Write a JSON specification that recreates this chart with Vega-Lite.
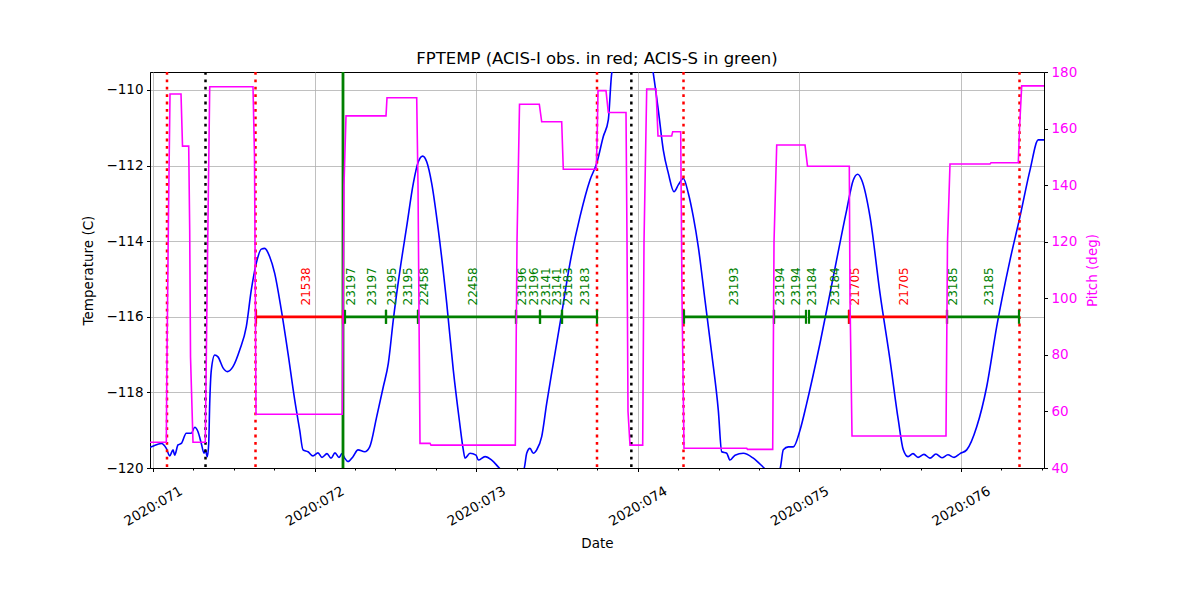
{
  "$schema": "https://vega.github.io/schema/vega-lite/v6.json",
  "width": 894,
  "height": 396,
  "autosize": {"type": "none"},
  "padding": {"left": 150, "top": 72, "right": 156, "bottom": 132},
  "background": "white",
  "title": {"text": "FPTEMP (ACIS-I obs. in red; ACIS-S in green)", "fontSize": 16.5, "fontWeight": "normal", "font": "DejaVu Sans", "color": "black", "offset": -2},
  "config": {
    "font": "DejaVu Sans",
    "view": {"stroke": "black", "strokeWidth": 1},
    "axis": {
      "labelFontSize": 13.5, "titleFontSize": 13.5, "labelColor": "black", "titleColor": "black",
      "titleFontWeight": "normal", "tickColor": "black", "domainColor": "black", "tickSize": 3.5,
      "labelPadding": 3.5, "gridColor": "#b0b0b0", "gridWidth": 0.8, "gridOpacity": 1,
      "labelFlush": false, "labelOverlap": false, "labelFont": "DejaVu Sans", "titleFont": "DejaVu Sans"
    }
  },
  "datasets": {
    "temp": [
      {"day": 70.9814, "temp": -119.45},
      {"day": 70.9895, "temp": -119.44},
      {"day": 71.0514, "temp": -119.35},
      {"day": 71.0823, "temp": -119.48},
      {"day": 71.1033, "temp": -119.68},
      {"day": 71.1238, "temp": -119.52},
      {"day": 71.1343, "temp": -119.66},
      {"day": 71.1547, "temp": -119.39},
      {"day": 71.1751, "temp": -119.35},
      {"day": 71.2061, "temp": -119.08},
      {"day": 71.2370, "temp": -119.08},
      {"day": 71.2580, "temp": -118.92},
      {"day": 71.2785, "temp": -119.04},
      {"day": 71.2989, "temp": -119.35},
      {"day": 71.3156, "temp": -119.61},
      {"day": 71.3236, "temp": -119.52},
      {"day": 71.3360, "temp": -119.70},
      {"day": 71.3447, "temp": -119.35},
      {"day": 71.3509, "temp": -118.29},
      {"day": 71.3608, "temp": -117.41},
      {"day": 71.3818, "temp": -117.01},
      {"day": 71.4022, "temp": -117.06},
      {"day": 71.4332, "temp": -117.35},
      {"day": 71.4598, "temp": -117.45},
      {"day": 71.4950, "temp": -117.32},
      {"day": 71.5365, "temp": -116.88},
      {"day": 71.5774, "temp": -116.26},
      {"day": 71.6083, "temp": -115.29},
      {"day": 71.6392, "temp": -114.58},
      {"day": 71.6702, "temp": -114.21},
      {"day": 71.6912, "temp": -114.19},
      {"day": 71.7222, "temp": -114.41},
      {"day": 71.7531, "temp": -114.85},
      {"day": 71.7939, "temp": -115.82},
      {"day": 71.8354, "temp": -116.97},
      {"day": 71.8769, "temp": -118.20},
      {"day": 71.9078, "temp": -119.00},
      {"day": 71.9282, "temp": -119.52},
      {"day": 71.9592, "temp": -119.57},
      {"day": 71.9900, "temp": -119.68},
      {"day": 72.0210, "temp": -119.60},
      {"day": 72.0458, "temp": -119.72},
      {"day": 72.0767, "temp": -119.62},
      {"day": 72.1015, "temp": -119.74},
      {"day": 72.1262, "temp": -119.60},
      {"day": 72.1510, "temp": -119.72},
      {"day": 72.1696, "temp": -119.62},
      {"day": 72.1863, "temp": -119.74},
      {"day": 72.2067, "temp": -119.83},
      {"day": 72.2376, "temp": -119.70},
      {"day": 72.2686, "temp": -119.52},
      {"day": 72.3100, "temp": -119.57},
      {"day": 72.3410, "temp": -119.44},
      {"day": 72.3843, "temp": -118.64},
      {"day": 72.4251, "temp": -117.85},
      {"day": 72.4561, "temp": -117.23},
      {"day": 72.4870, "temp": -116.08},
      {"day": 72.5285, "temp": -114.76},
      {"day": 72.5699, "temp": -113.61},
      {"day": 72.6108, "temp": -112.47},
      {"day": 72.6417, "temp": -111.90},
      {"day": 72.6689, "temp": -111.75},
      {"day": 72.6937, "temp": -111.90},
      {"day": 72.7246, "temp": -112.47},
      {"day": 72.7655, "temp": -113.70},
      {"day": 72.8175, "temp": -115.64},
      {"day": 72.8583, "temp": -117.41},
      {"day": 72.8954, "temp": -118.73},
      {"day": 72.9202, "temp": -119.52},
      {"day": 72.9307, "temp": -119.74},
      {"day": 72.9616, "temp": -119.61},
      {"day": 72.9988, "temp": -119.66},
      {"day": 73.0130, "temp": -119.79},
      {"day": 73.0545, "temp": -119.70},
      {"day": 73.0959, "temp": -119.79},
      {"day": 73.1473, "temp": -120.02},
      {"day": 73.2215, "temp": -120.25},
      {"day": 73.2958, "temp": -120.02},
      {"day": 73.3125, "temp": -119.61},
      {"day": 73.3329, "temp": -119.48},
      {"day": 73.3533, "temp": -119.61},
      {"day": 73.3744, "temp": -119.52},
      {"day": 73.4053, "temp": -119.17},
      {"day": 73.4362, "temp": -118.29},
      {"day": 73.4771, "temp": -117.23},
      {"day": 73.5290, "temp": -115.91},
      {"day": 73.5804, "temp": -114.58},
      {"day": 73.6423, "temp": -113.35},
      {"day": 73.7042, "temp": -112.38},
      {"day": 73.7457, "temp": -111.94},
      {"day": 73.7865, "temp": -111.23},
      {"day": 73.8175, "temp": -110.79},
      {"day": 73.8385, "temp": -109.56},
      {"day": 73.8899, "temp": -108.80},
      {"day": 73.9827, "temp": -108.50},
      {"day": 74.0755, "temp": -109.00},
      {"day": 74.0959, "temp": -109.56},
      {"day": 74.1269, "temp": -110.53},
      {"day": 74.1578, "temp": -111.59},
      {"day": 74.1888, "temp": -112.20},
      {"day": 74.2240, "temp": -112.69},
      {"day": 74.2506, "temp": -112.51},
      {"day": 74.2816, "temp": -112.34},
      {"day": 74.3125, "temp": -112.73},
      {"day": 74.3434, "temp": -113.35},
      {"day": 74.3744, "temp": -114.15},
      {"day": 74.4158, "temp": -115.56},
      {"day": 74.4573, "temp": -116.97},
      {"day": 74.4981, "temp": -118.47},
      {"day": 74.5192, "temp": -119.57},
      {"day": 74.5501, "temp": -119.61},
      {"day": 74.5705, "temp": -119.79},
      {"day": 74.6015, "temp": -119.66},
      {"day": 74.6528, "temp": -119.61},
      {"day": 74.7147, "temp": -119.74},
      {"day": 74.7766, "temp": -119.98},
      {"day": 74.8304, "temp": -120.20},
      {"day": 74.8800, "temp": -120.02},
      {"day": 74.9004, "temp": -119.52},
      {"day": 74.9313, "temp": -119.44},
      {"day": 74.9623, "temp": -119.44},
      {"day": 75.0037, "temp": -119.00},
      {"day": 75.0452, "temp": -118.29},
      {"day": 75.1275, "temp": -116.70},
      {"day": 75.2098, "temp": -114.94},
      {"day": 75.2927, "temp": -113.17},
      {"day": 75.3336, "temp": -112.38},
      {"day": 75.3608, "temp": -112.23},
      {"day": 75.3855, "temp": -112.38},
      {"day": 75.4369, "temp": -113.35},
      {"day": 75.4988, "temp": -115.38},
      {"day": 75.5606, "temp": -117.14},
      {"day": 75.6120, "temp": -118.73},
      {"day": 75.6429, "temp": -119.52},
      {"day": 75.6720, "temp": -119.70},
      {"day": 75.7030, "temp": -119.62},
      {"day": 75.7340, "temp": -119.72},
      {"day": 75.7710, "temp": -119.64},
      {"day": 75.8080, "temp": -119.74},
      {"day": 75.8450, "temp": -119.63},
      {"day": 75.8820, "temp": -119.73},
      {"day": 75.9190, "temp": -119.65},
      {"day": 75.9570, "temp": -119.72},
      {"day": 75.9940, "temp": -119.62},
      {"day": 76.0353, "temp": -119.52},
      {"day": 76.0972, "temp": -118.91},
      {"day": 76.1590, "temp": -117.85},
      {"day": 76.2209, "temp": -116.26},
      {"day": 76.3032, "temp": -114.50},
      {"day": 76.3651, "temp": -113.35},
      {"day": 76.4270, "temp": -112.12},
      {"day": 76.4783, "temp": -111.32},
      {"day": 76.5136, "temp": -111.32}
    ],
    "pitch": [
      {"day": 70.9814, "pitch": 49.1},
      {"day": 71.0823, "pitch": 49.1},
      {"day": 71.0866, "pitch": 80},
      {"day": 71.0959, "pitch": 130},
      {"day": 71.1052, "pitch": 172.2},
      {"day": 71.1733, "pitch": 172.2},
      {"day": 71.1826, "pitch": 153.8},
      {"day": 71.2209, "pitch": 153.8},
      {"day": 71.2271, "pitch": 124.1},
      {"day": 71.2321, "pitch": 79.3},
      {"day": 71.2475, "pitch": 49.1},
      {"day": 71.3236, "pitch": 49.1},
      {"day": 71.3342, "pitch": 100},
      {"day": 71.3509, "pitch": 174.8},
      {"day": 71.6188, "pitch": 174.8},
      {"day": 71.6281, "pitch": 150},
      {"day": 71.6374, "pitch": 59.0},
      {"day": 72.1714, "pitch": 59.0},
      {"day": 72.1819, "pitch": 140},
      {"day": 72.1943, "pitch": 164.5},
      {"day": 72.4418, "pitch": 164.5},
      {"day": 72.4480, "pitch": 170.9},
      {"day": 72.6318, "pitch": 170.9},
      {"day": 72.6399, "pitch": 140},
      {"day": 72.6522, "pitch": 48.7},
      {"day": 72.7141, "pitch": 48.7},
      {"day": 72.7203, "pitch": 48.1},
      {"day": 73.2420, "pitch": 48.1},
      {"day": 73.2525, "pitch": 120},
      {"day": 73.2680, "pitch": 168.6},
      {"day": 73.3905, "pitch": 168.6},
      {"day": 73.4053, "pitch": 162.4},
      {"day": 73.5290, "pitch": 162.4},
      {"day": 73.5389, "pitch": 145.6},
      {"day": 73.7432, "pitch": 145.6},
      {"day": 73.7494, "pitch": 160},
      {"day": 73.7537, "pitch": 173.4},
      {"day": 73.8032, "pitch": 173.4},
      {"day": 73.8175, "pitch": 165.7},
      {"day": 73.9270, "pitch": 165.7},
      {"day": 73.9332, "pitch": 120},
      {"day": 73.9394, "pitch": 60},
      {"day": 73.9517, "pitch": 48.1},
      {"day": 74.0303, "pitch": 48.1},
      {"day": 74.0384, "pitch": 120},
      {"day": 74.0551, "pitch": 174.0},
      {"day": 74.1126, "pitch": 174.0},
      {"day": 74.1250, "pitch": 157.4},
      {"day": 74.2098, "pitch": 157.4},
      {"day": 74.2160, "pitch": 158.9},
      {"day": 74.2655, "pitch": 158.9},
      {"day": 74.2735, "pitch": 100},
      {"day": 74.2859, "pitch": 47.0},
      {"day": 74.6739, "pitch": 47.0},
      {"day": 74.6789, "pitch": 46.6},
      {"day": 74.8348, "pitch": 46.6},
      {"day": 74.8429, "pitch": 120},
      {"day": 74.8596, "pitch": 154.2},
      {"day": 75.0347, "pitch": 154.2},
      {"day": 75.0501, "pitch": 146.7},
      {"day": 75.3088, "pitch": 146.7},
      {"day": 75.3131, "pitch": 100},
      {"day": 75.3255, "pitch": 51.3},
      {"day": 75.9072, "pitch": 51.3},
      {"day": 75.9165, "pitch": 120},
      {"day": 75.9319, "pitch": 147.5},
      {"day": 76.1795, "pitch": 147.5},
      {"day": 76.1856, "pitch": 147.9},
      {"day": 76.3546, "pitch": 147.9},
      {"day": 76.3620, "pitch": 160},
      {"day": 76.3756, "pitch": 175.1},
      {"day": 76.5136, "pitch": 175.1}
    ],
    "obs": [
      {"obsid": "21538", "inst": "ACIS-I", "start": 71.6374, "end": 72.1757},
      {"obsid": "23197", "inst": "ACIS-S", "start": 72.1881, "end": 72.4418},
      {"obsid": "23195", "inst": "ACIS-S", "start": 72.4418, "end": 72.6399},
      {"obsid": "22458", "inst": "ACIS-S", "start": 72.6399, "end": 73.2463},
      {"obsid": "23196", "inst": "ACIS-S", "start": 73.2463, "end": 73.3948},
      {"obsid": "23141", "inst": "ACIS-S", "start": 73.3948, "end": 73.5309},
      {"obsid": "23183", "inst": "ACIS-S", "start": 73.5309, "end": 73.7475},
      {"obsid": "23193", "inst": "ACIS-S", "start": 74.2859, "end": 74.8428},
      {"obsid": "23194", "inst": "ACIS-S", "start": 74.8428, "end": 75.0408},
      {"obsid": "23184", "inst": "ACIS-S", "start": 75.0594, "end": 75.3069},
      {"obsid": "21705", "inst": "ACIS-I", "start": 75.3069, "end": 75.9134},
      {"obsid": "23185", "inst": "ACIS-S", "start": 75.9134, "end": 76.3589}
    ],
    "labels": [
      {"obsid": "21538", "inst": "ACIS-I", "day": 71.9066},
      {"obsid": "23197", "inst": "ACIS-S", "day": 72.1881},
      {"obsid": "23197", "inst": "ACIS-S", "day": 72.3150},
      {"obsid": "23195", "inst": "ACIS-S", "day": 72.4418},
      {"obsid": "23195", "inst": "ACIS-S", "day": 72.5408},
      {"obsid": "22458", "inst": "ACIS-S", "day": 72.6399},
      {"obsid": "22458", "inst": "ACIS-S", "day": 72.9431},
      {"obsid": "23196", "inst": "ACIS-S", "day": 73.2463},
      {"obsid": "23196", "inst": "ACIS-S", "day": 73.3205},
      {"obsid": "23141", "inst": "ACIS-S", "day": 73.3948},
      {"obsid": "23141", "inst": "ACIS-S", "day": 73.4629},
      {"obsid": "23183", "inst": "ACIS-S", "day": 73.5309},
      {"obsid": "23183", "inst": "ACIS-S", "day": 73.6392},
      {"obsid": "23193", "inst": "ACIS-S", "day": 74.5551},
      {"obsid": "23194", "inst": "ACIS-S", "day": 74.8428},
      {"obsid": "23194", "inst": "ACIS-S", "day": 74.9418},
      {"obsid": "23184", "inst": "ACIS-S", "day": 75.0408},
      {"obsid": "23184", "inst": "ACIS-S", "day": 75.1832},
      {"obsid": "21705", "inst": "ACIS-I", "day": 75.3069},
      {"obsid": "21705", "inst": "ACIS-I", "day": 75.6101},
      {"obsid": "23185", "inst": "ACIS-S", "day": 75.9134},
      {"obsid": "23185", "inst": "ACIS-S", "day": 76.1361}
    ],
    "radzone": [
      {"day": 71.0866}, {"day": 71.6343}, {"day": 73.7475}, {"day": 74.2828}, {"day": 76.3620}
    ],
    "perigee": [
      {"day": 71.3249}, {"day": 73.9600}
    ],
    "now": [
      {"day": 72.1757}
    ]
  },
  "layer": [
    {
      "data": {"name": "temp"},
      "mark": {"type": "line", "color": "#0000ff", "strokeWidth": 1.6, "clip": true, "interpolate": "monotone"},
      "encoding": {
        "x": {
          "field": "day", "type": "quantitative",
          "scale": {"domain": [70.9814, 76.5136], "nice": false, "zero": false},
          "axis": {
            "title": "Date", "values": [71, 72, 73, 74, 75, 76], "labelExpr": "'2020:0' + datum.value",
            "labelAngle": -30, "labelAlign": "center", "labelBaseline": "middle", "labelPadding": 34.5,
            "grid": true, "titleY": 79, "titleBaseline": "alphabetic"
          }
        },
        "y": {
          "field": "temp", "type": "quantitative",
          "scale": {"domain": [-120, -109.524], "nice": false, "zero": false},
          "axis": {
            "title": "Temperature (C)", "values": [-120, -118, -116, -114, -112, -110], "format": "d",
            "grid": true, "titleX": -62, "titleBaseline": "middle"
          }
        }
      }
    },
    {
      "mark": {"type": "rule", "color": "#0000ff", "strokeWidth": 1, "strokeDash": [5, 2.2]},
      "encoding": {"y": {"datum": -111, "type": "quantitative", "scale": {"domain": [-120, -109.524], "nice": false, "zero": false}, "axis": null}}
    },
    {
      "mark": {"type": "rule", "color": "#800080", "strokeWidth": 1, "strokeDash": [5, 2.2]},
      "encoding": {"y": {"datum": -112, "type": "quantitative", "scale": {"domain": [-120, -109.524], "nice": false, "zero": false}, "axis": null}}
    },
    {
      "mark": {"type": "rule", "color": "#ff0000", "strokeWidth": 2.5, "strokeDash": [10, 4.4]},
      "encoding": {"y": {"datum": -118.7, "type": "quantitative", "scale": {"domain": [-120, -109.524], "nice": false, "zero": false}, "axis": null}}
    },
    {
      "data": {"name": "radzone"},
      "mark": {"type": "rule", "color": "#ff0000", "strokeWidth": 2.5, "strokeDash": [2.8, 4.6]},
      "encoding": {"x": {"field": "day", "type": "quantitative", "axis": null}}
    },
    {
      "data": {"name": "perigee"},
      "mark": {"type": "rule", "color": "black", "strokeWidth": 2.5, "strokeDash": [2.8, 4.6]},
      "encoding": {"x": {"field": "day", "type": "quantitative", "axis": null}}
    },
    {
      "data": {"name": "now"},
      "mark": {"type": "rule", "color": "#008000", "strokeWidth": 2.8},
      "encoding": {"x": {"field": "day", "type": "quantitative", "axis": null}}
    },
    {
      "data": {"name": "obs"},
      "mark": {"type": "rule", "strokeWidth": 2.8},
      "encoding": {
        "x": {"field": "start", "type": "quantitative", "axis": null},
        "x2": {"field": "end"},
        "y": {"datum": -116, "type": "quantitative", "scale": {"domain": [-120, -109.524], "nice": false, "zero": false}, "axis": null},
        "color": {"field": "inst", "type": "nominal", "scale": {"domain": ["ACIS-I", "ACIS-S"], "range": ["#ff0000", "#008000"]}, "legend": null}
      }
    },
    {
      "data": {"name": "obs"},
      "transform": [{"fold": ["start", "end"], "as": ["edge", "edgeday"]}],
      "mark": {"type": "tick", "orient": "vertical", "size": 14, "thickness": 2.2, "opacity": 1},
      "encoding": {
        "x": {"field": "edgeday", "type": "quantitative", "axis": null},
        "y": {"datum": -116, "type": "quantitative", "scale": {"domain": [-120, -109.524], "nice": false, "zero": false}, "axis": null},
        "color": {"field": "inst", "type": "nominal", "scale": {"domain": ["ACIS-I", "ACIS-S"], "range": ["#ff0000", "#008000"]}, "legend": null}
      }
    },
    {
      "data": {"name": "labels"},
      "mark": {"type": "text", "angle": 270, "align": "left", "baseline": "middle", "dy": 6, "fontSize": 12, "font": "DejaVu Sans"},
      "encoding": {
        "x": {"field": "day", "type": "quantitative", "axis": null},
        "y": {"datum": -115.7, "type": "quantitative", "scale": {"domain": [-120, -109.524], "nice": false, "zero": false}, "axis": null},
        "text": {"field": "obsid"},
        "color": {"field": "inst", "type": "nominal", "scale": {"domain": ["ACIS-I", "ACIS-S"], "range": ["#ff0000", "#008000"]}, "legend": null}
      }
    },
    {
      "data": {"name": "pitch"},
      "mark": {"type": "line", "color": "#ff00ff", "strokeWidth": 1.6, "clip": true},
      "encoding": {
        "x": {
          "field": "day", "type": "quantitative",
          "scale": {"domain": [70.9814, 76.5136], "nice": false, "zero": false},
          "axis": {
            "orient": "bottom", "title": null, "labels": false, "grid": false, "domain": false, "tickSize": 2,
            "values": [71.25, 71.5, 71.75, 72.25, 72.5, 72.75, 73.25, 73.5, 73.75, 74.25, 74.5, 74.75, 75.25, 75.5, 75.75, 76.25, 76.5]
          }
        },
        "y": {
          "field": "pitch", "type": "quantitative",
          "scale": {"domain": [40, 180], "nice": false, "zero": false},
          "axis": {
            "orient": "right", "title": "Pitch (deg)", "values": [40, 60, 80, 100, 120, 140, 160, 180],
            "labelColor": "#ff00ff", "titleColor": "#ff00ff", "grid": false, "titleAngle": 270,
            "titleX": 48, "titleBaseline": "middle"
          }
        }
      }
    }
  ],
  "resolve": {"scale": {"y": "independent"}, "axis": {"x": "independent"}}
}
